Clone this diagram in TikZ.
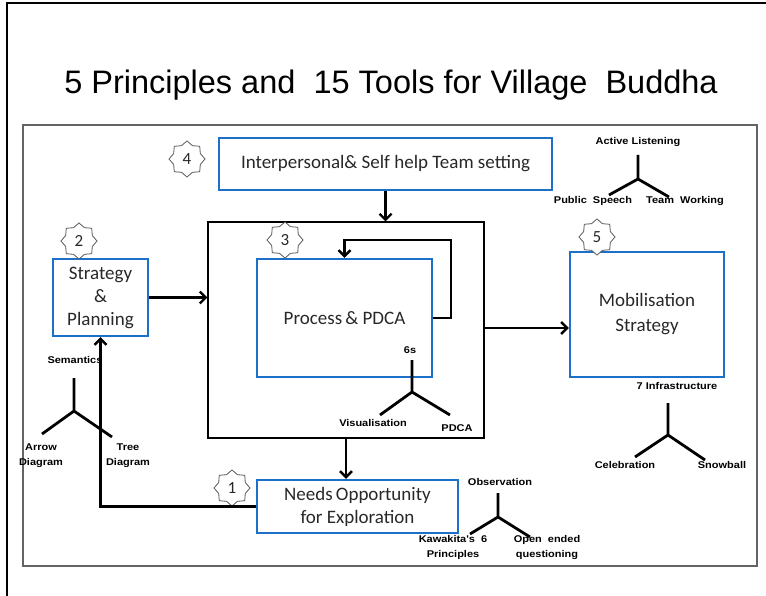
\documentclass[tikz,border=0pt]{standalone}
\usepackage{fontspec}
\setmainfont{Carlito}
\newfontfamily\titlefont{Liberation Sans}
\newfontfamily\labelfont[FakeStretch=1.12]{Liberation Sans}
\usetikzlibrary{arrows.meta,shapes.geometric}
\definecolor{boxblue}{RGB}{28,112,200}
\definecolor{framegray}{RGB}{100,100,100}
\definecolor{stargray}{RGB}{90,90,90}
\definecolor{textdark}{RGB}{40,40,40}
\begin{document}
\begin{tikzpicture}[x=1pt,y=-1pt,
  bluebox/.style={draw=boxblue,line width=2.4pt,inner sep=0pt,align=center,
    text=textdark,font=\fontsize{19}{23}\selectfont},
  badge/.style={star,star points=8,star point ratio=1.25,minimum size=36pt,
    inner sep=0pt,draw=stargray,line width=0.8pt,fill=white,text=textdark,
    font=\fontsize{17}{17}\selectfont},
  arr/.style={line width=2.4pt,-{Straight Barb[length=6pt,width=12pt]}},
  treeline/.style={line width=2.8pt},
  lbl/.style={inner sep=0pt,align=center,
    font=\labelfont\bfseries\fontsize{9.8}{15}\selectfont}]
\useasboundingbox (0,0) rectangle (766,596);
% page frame and slide frame
\draw[line width=2pt] (766,3) -- (7,3) -- (7,596);
\draw[framegray,line width=2.5pt] (23,125) rectangle (757,566);
% title
\node[anchor=base,inner sep=0pt,font=\titlefont\fontsize{32.5}{36}\selectfont] (title) at (391,94)
  {5 Principles and\ \ 15 Tools for Village\ \ Buddha};

% boxes
\node[draw,line width=1.1pt,minimum width=276pt,minimum height=216pt,inner sep=0pt] (big) at (346,330) {};
\node[bluebox,minimum width=333pt,minimum height=52pt] (box4) at (385.5,164) {Interpersonal\&\ Self help\ Team setting};
\node[bluebox,minimum width=95pt,minimum height=77pt] (box2) at (100.5,297.5) {Strategy\\\&\\Planning};
\node[bluebox,minimum width=175pt,minimum height=118pt] (box3) at (344.5,318) {Process\,\&\ PDCA};
\node[bluebox,minimum width=154pt,minimum height=125pt] (box5) at (647,314.5) {Mobilisation\\[2pt]Strategy};
\node[bluebox,minimum width=201pt,minimum height=53pt] (box1) at (357.5,506.5) {Needs\,Opportunity\\for Exploration};

% numbered badges
\node[badge] (s4) at (187,159) {4};
\node[badge] (s2) at (79,241) {2};
\node[badge] (s3) at (285,240) {3};
\node[badge] (s5) at (597,237) {5};
\node[badge] (s1) at (232,488) {1};

% connectors
\draw[arr] (box4.south) -- (box4.south |- big.north);
\draw[arr] (box2.east) -- (box2.east -| big.west);
\coordinate (bigout) at ([yshift=2pt]big.east);
\draw[arr] (bigout) -- (bigout -| box5.west);
\draw[arr] (box3.east) -- ++(18,0) -- ++(0,-78) -| (box3.north);
\draw[arr] (big.south) -- (big.south |- box1.north);
\draw[arr] (box1.west) -| (box2.south);

% tool trees
% Active Listening
\node[lbl] (t4a) at (638,142) {Active Listening};
\node[lbl] (t4b) at (593,201) {Public\ \ Speech};
\node[lbl] (t4c) at (685,201) {Team\ \ Working};
\draw[treeline] (638,155) coordinate (t4top) -- (638,179) coordinate (t4fork) -- (609,195) (t4fork) -- (669,197);
% Semantics
\node[lbl] (t2a) at (75,360) {Semantics};
\node[lbl] (t2b) at (41,455.5) {Arrow\\Diagram};
\node[lbl] (t2c) at (128,455.5) {Tree\\Diagram};
\draw[treeline] (74,378) coordinate (t2top) -- (74,411) coordinate (t2fork) -- (42,434) (t2fork) -- (112,437);
% 6s
\node[lbl] (t3a) at (410,350) {6s};
\node[lbl] (t3b) at (373,423) {Visualisation};
\node[lbl] (t3c) at (457,428) {PDCA};
\draw[treeline] (412,360) coordinate (t3top) -- (412,392) coordinate (t3fork) -- (380,415) (t3fork) -- (450,415);
% 7 Infrastructure
\node[lbl] (t5a) at (677,386) {7 Infrastructure};
\node[lbl] (t5b) at (625,465) {Celebration};
\node[lbl] (t5c) at (722,465) {Snowball};
\draw[treeline] (668,403) coordinate (t5top) -- (668,435) coordinate (t5fork) -- (635,457) (t5fork) -- (705,460);
% Observation
\node[lbl] (t1a) at (500,482) {Observation};
\node[lbl] (t1b) at (453,547) {Kawakita's\ \ 6\\Principles};
\node[lbl] (t1c) at (547,547) {Open\ \ ended\\questioning};
\draw[treeline] (498,493) coordinate (t1top) -- (498,517) coordinate (t1fork) -- (470,534) (t1fork) -- (530,537);
\end{tikzpicture}
\end{document}
